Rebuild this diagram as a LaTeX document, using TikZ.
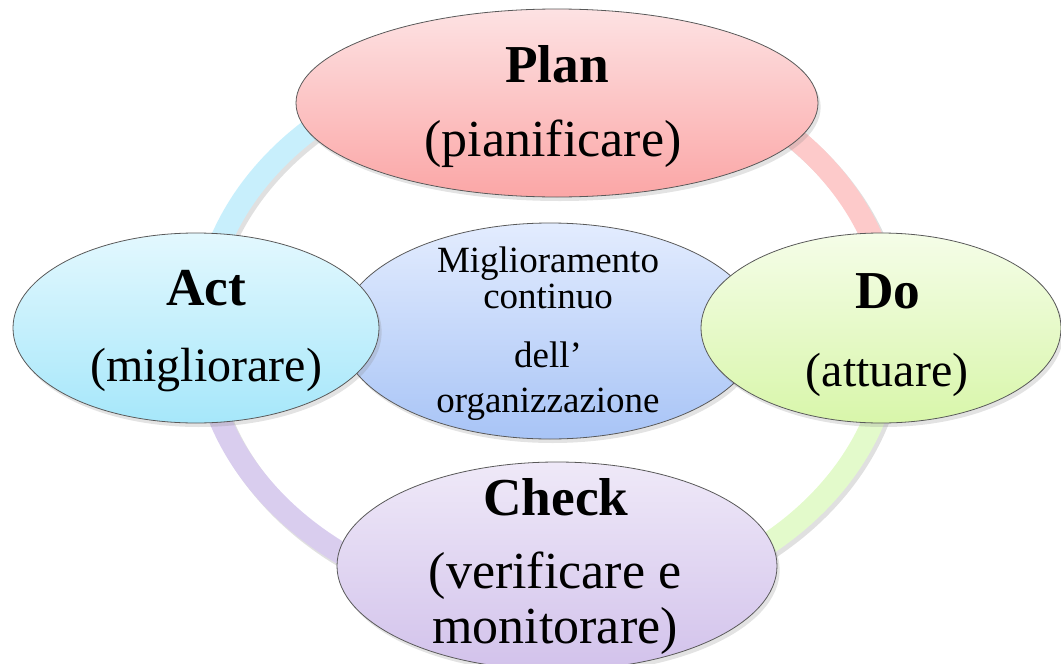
\documentclass[tikz,border=0pt]{standalone}
\usepackage{fontspec}
\setmainfont{Liberation Serif}
\usepackage{tikz}
\usetikzlibrary{calc, positioning, shapes.geometric, shadows}
\definecolor{planTop}{HTML}{FDE2E3}
\definecolor{planBot}{HTML}{FBA6A6}
\definecolor{actTop}{HTML}{E3F8FE}
\definecolor{actBot}{HTML}{A6E7FA}
\definecolor{doTop}{HTML}{F5FDE8}
\definecolor{doBot}{HTML}{D8F6AA}
\definecolor{chkTop}{HTML}{EFE9F8}
\definecolor{chkBot}{HTML}{D2C2EB}
\definecolor{midTop}{HTML}{E3ECFE}
\definecolor{midBot}{HTML}{A8C4F6}
\definecolor{ringB}{HTML}{C8EFFC}
\definecolor{ringP}{HTML}{FDCACA}
\definecolor{ringG}{HTML}{E3FACB}
\definecolor{ringL}{HTML}{D9CDEE}
\tikzstyle{blob}=[draw=black!65, line width=0.6pt, shape=ellipse, inner sep=0pt, drop shadow={opacity=0.22, shadow xshift=2pt, shadow yshift=-3pt}]
\tikzstyle{ttl}=[anchor=base, inner sep=0pt, font=\fontsize{40}{46}\selectfont\bfseries]
\tikzstyle{sub}=[anchor=base, inner sep=0pt, font=\fontsize{39}{45}\selectfont]
\tikzstyle{subs}=[anchor=base, inner sep=0pt, font=\fontsize{36}{42}\selectfont]
\tikzstyle{mid}=[anchor=base, inner sep=0pt, font=\fontsize{27.75}{32}\selectfont]
\tikzstyle{ring}=[line width=16.5pt]
\tikzstyle{ringshadow}=[line width=16.5pt, black, opacity=0.12]
\tikzset{>=stealth}

\begin{document}
\begin{tikzpicture}[x=0.75pt, y=-0.75pt]
\useasboundingbox (0,0) rectangle (1061,664);
\coordinate (c) at (547,331);

% ring segments
\draw[ringshadow] ($(c)+(3,-274)$) arc[start angle=-90, end angle=0, x radius=345, y radius=277];
\draw[ringshadow] ($(c)+(348,4)$) arc[start angle=0, end angle=90, x radius=345, y radius=277];
\draw[ringshadow] ($(c)+(3,281)$) arc[start angle=90, end angle=180, x radius=345, y radius=277];
\draw[ringshadow] ($(c)+(-342,4)$) arc[start angle=180, end angle=270, x radius=345, y radius=277];
\draw[ring, ringP] ($(c)+(0,-277)$) arc[start angle=-90, end angle=0, x radius=345, y radius=277];
\draw[ring, ringG] ($(c)+(345,0)$) arc[start angle=0, end angle=90, x radius=345, y radius=277];
\draw[ring, ringL] ($(c)+(0,277)$) arc[start angle=90, end angle=180, x radius=345, y radius=277];
\draw[ring, ringB] ($(c)+(-345,0)$) arc[start angle=180, end angle=270, x radius=345, y radius=277];

% ellipses
\node[blob, top color=midTop, bottom color=midBot, minimum width=315pt, minimum height=162pt] (mid) at (550,331) {};
\node[blob, top color=actTop, bottom color=actBot, minimum width=274.5pt, minimum height=142.5pt] (act) at (196,328) {};
\node[blob, top color=doTop, bottom color=doBot, minimum width=270pt, minimum height=142.5pt] (do) at (881,328) {};
\node[blob, top color=planTop, bottom color=planBot, minimum width=391.5pt, minimum height=141pt] (plan) at (557,103) {};
\node[blob, top color=chkTop, bottom color=chkBot, minimum width=330pt, minimum height=156pt] (check) at (557,566) {};

% texts
\node[ttl] (plan1) at (557,82) {Plan};
\node[sub] (plan2) at (553,156) {(pianificare)};
\node[ttl] (act1) at (206,305) {Act};
\node[subs] (act2) at (206,381) {(migliorare)};
\node[ttl] (do1) at (888,308) {Do};
\node[subs] (do2) at (887,386) {(attuare)};
\node[ttl] (check1) at (556,515) {Check};
\node[sub] (check2) at (555,588) {(verificare e};
\node[sub] (check3) at (555,643) {monitorare)};
\node[mid] (mid1) at (548,272) {Miglioramento};
\node[mid] (mid2) at (548,308) {continuo};
\node[mid] (mid3) at (548,367) {dell’};
\node[mid] (mid4) at (548,412) {organizzazione};
\end{tikzpicture}
\end{document}
